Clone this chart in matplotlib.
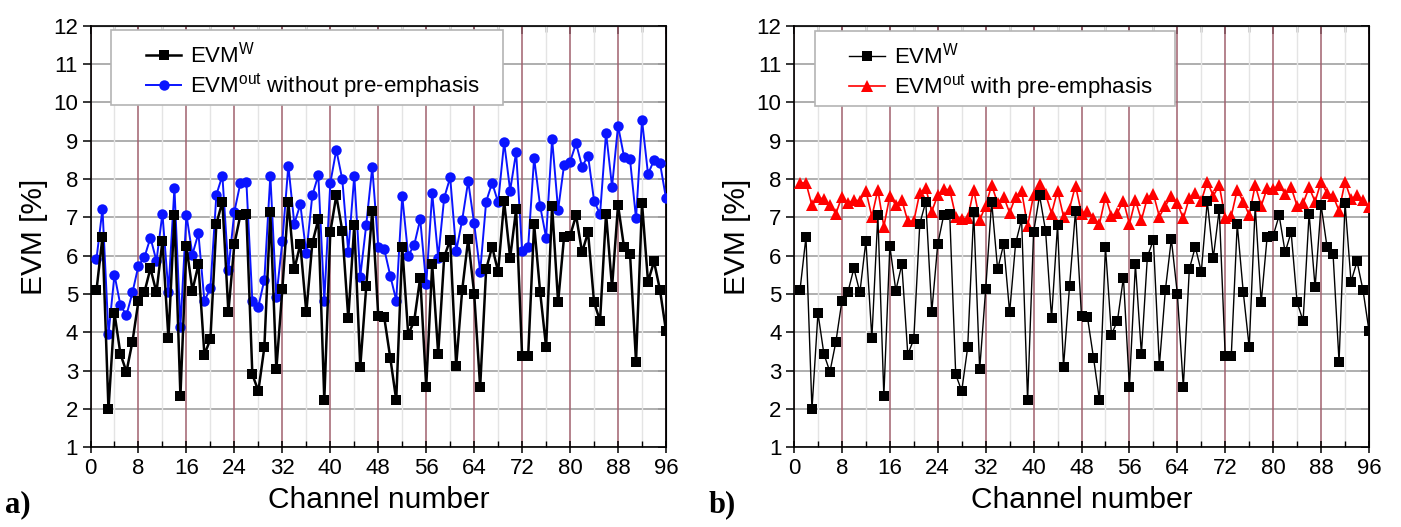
import matplotlib
matplotlib.use("Agg")
import matplotlib.pyplot as plt
from matplotlib.patches import Rectangle
from matplotlib.ticker import MultipleLocator

plt.rcParams['font.family'] = ['Liberation Sans', 'DejaVu Sans']
plt.rcParams['mathtext.fontset'] = 'custom'
plt.rcParams['mathtext.rm'] = 'Liberation Sans'
plt.rcParams['mathtext.it'] = 'Liberation Sans:italic'
plt.rcParams['mathtext.bf'] = 'Liberation Sans:bold'

channels = list(range(1, 97))

evm_w = [5.10, 6.49, 1.99, 4.50, 3.43, 2.97, 3.76, 4.82, 5.05, 5.67, 5.04, 6.38,
         3.85, 7.06, 2.34, 6.25, 5.09, 5.77, 3.42, 3.82, 6.83, 7.41, 4.53, 6.30,
         7.06, 7.08, 2.90, 2.47, 3.61, 7.13, 3.03, 5.12, 7.41, 5.64, 6.30, 4.52,
         6.32, 6.95, 2.23, 6.61, 7.57, 6.65, 4.37, 6.79, 3.10, 5.20, 7.17, 4.43,
         4.39, 3.34, 2.23, 6.23, 3.94, 4.30, 5.43, 2.58, 5.77, 3.44, 5.97, 6.41,
         3.13, 5.10, 6.43, 5.01, 2.57, 5.65, 6.23, 5.58, 7.42, 5.94, 7.21, 3.37,
         3.37, 6.82, 5.06, 3.61, 7.30, 4.78, 6.50, 6.52, 7.05, 6.09, 6.61, 4.78,
         4.30, 7.10, 5.17, 7.32, 6.22, 6.04, 3.23, 7.37, 5.32, 5.85, 5.10, 4.04]

evm_out_no_pe = [5.92, 7.22, 3.95, 5.50, 4.70, 4.45, 5.04, 5.74, 5.96, 6.47, 5.86, 7.10,
                 5.06, 7.77, 4.14, 7.07, 6.03, 6.58, 4.82, 5.15, 7.59, 8.09, 5.63, 7.15,
                 7.89, 7.93, 4.81, 4.67, 5.37, 8.09, 4.91, 6.37, 8.35, 6.83, 7.34, 6.06,
                 7.57, 8.10, 4.82, 7.89, 8.76, 7.99, 6.10, 8.08, 5.45, 6.81, 8.31, 6.23,
                 6.17, 5.48, 4.83, 7.56, 6.00, 6.28, 6.95, 5.25, 7.63, 5.95, 7.51, 8.04,
                 6.12, 6.93, 7.94, 6.84, 5.58, 7.41, 7.90, 7.39, 8.96, 7.70, 8.70, 6.11,
                 6.22, 8.55, 7.30, 6.47, 9.05, 7.19, 8.37, 8.45, 8.93, 8.32, 8.61, 7.43,
                 7.08, 9.21, 7.80, 9.39, 8.58, 8.51, 6.97, 9.54, 8.13, 8.49, 8.41, 7.50]

evm_out_pe = [7.90, 7.90, 7.31, 7.52, 7.47, 7.32, 7.10, 7.54, 7.37, 7.45, 7.43, 7.70,
              7.02, 7.72, 6.76, 7.56, 7.32, 7.45, 6.90, 6.90, 7.64, 7.76, 7.15, 7.58,
              7.73, 7.72, 7.02, 6.95, 6.97, 7.72, 6.93, 7.30, 7.84, 7.37, 7.54, 7.12,
              7.54, 7.69, 6.77, 7.58, 7.86, 7.61, 7.10, 7.70, 7.02, 7.23, 7.83, 7.10,
              7.17, 6.97, 6.83, 7.54, 7.04, 7.12, 7.43, 6.83, 7.45, 6.93, 7.51, 7.61,
              7.02, 7.30, 7.56, 7.37, 6.97, 7.51, 7.64, 7.43, 7.93, 7.56, 7.84, 6.97,
              7.03, 7.72, 7.41, 7.06, 7.84, 7.30, 7.76, 7.73, 7.84, 7.61, 7.78, 7.30,
              7.37, 7.78, 7.41, 7.93, 7.63, 7.56, 7.17, 7.93, 7.47, 7.58, 7.45, 7.26]

x_ticks = [0, 8, 16, 24, 32, 40, 48, 56, 64, 72, 80, 88, 96]
y_ticks = list(range(1, 13))

W, H = 1401, 527
fig = plt.figure(figsize=(W / 100, H / 100), dpi=100)
fig.patch.set_facecolor('white')

ax_a = fig.add_axes([90.5 / W, 1 - 447.3 / H, 575.5 / W, 421.6 / H])
ax_b = fig.add_axes([794 / W, 1 - 447.3 / H, 575 / W, 421.6 / H])


def style_axes(ax):
    ax.set_xlim(0, 96)
    ax.set_ylim(1, 12)
    ax.set_xticks(x_ticks)
    ax.xaxis.set_minor_locator(MultipleLocator(4))
    ax.set_yticks(y_ticks)
    for v in y_ticks:
        ax.axhline(v, color='#a8a8a8', lw=1.3, zorder=0.5)
    ax.grid(True, axis='x', which='major', color='#a0606e', lw=1.1, zorder=0.6)
    ax.grid(True, axis='x', which='minor', color='#e4e4e4', lw=1.0, zorder=0.4)
    ax.set_axisbelow(True)
    for s in ax.spines.values():
        s.set_linewidth(1.2)
        s.set_color('black')
    ax.tick_params(axis='y', which='both', direction='out', length=6, width=1.1,
                   labelsize=16, pad=3)
    ax.tick_params(axis='x', which='major', direction='inout', length=8, width=1.1,
                   labelsize=16, pad=4)
    ax.tick_params(axis='x', which='minor', direction='in', length=4, width=1.0)
    # inward ticks on top and right
    top = ax.secondary_xaxis('top')
    top.set_xticks(x_ticks)
    top.xaxis.set_minor_locator(MultipleLocator(4))
    top.tick_params(which='major', direction='in', length=6, width=1.1, labeltop=False)
    top.tick_params(which='minor', direction='in', length=4, width=1.0)
    right = ax.secondary_yaxis('right')
    right.set_yticks(y_ticks)
    right.tick_params(direction='in', length=6, width=1.1, labelright=False)
    ax.set_xlabel('Channel number', fontsize=21.5, labelpad=5)
    ax.set_ylabel('EVM [%]', fontsize=21.5, labelpad=4)


style_axes(ax_a)
style_axes(ax_b)

# Panel a
l_blue, = ax_a.plot(channels, evm_out_no_pe, color='#0a14ff', lw=1.4, marker='o',
                    markersize=7.5, markeredgewidth=0, zorder=3,
                    label='EVM$^{\\mathrm{out}}$ without pre-emphasis')
l_black_a, = ax_a.plot(channels, evm_w, color='black', lw=1.8, marker='s',
                       markersize=6.5, markeredgewidth=0, zorder=4,
                       label='EVM$^{\\mathrm{W}}$')

# Panel b
l_red, = ax_b.plot(channels, evm_out_pe, color='#ff0000', lw=1.2, marker='^',
                   markersize=8, markeredgewidth=0, zorder=3,
                   label='EVM$^{\\mathrm{out}}$ with pre-emphasis')
l_black_b, = ax_b.plot(channels, evm_w, color='black', lw=1.0, marker='s',
                       markersize=6.5, markeredgewidth=0, zorder=4,
                       label='EVM$^{\\mathrm{W}}$')


def add_legend(ax, handles, box):
    x0, y0, x1, y1 = box
    ax.add_patch(Rectangle((x0, y0), x1 - x0, y1 - y0, transform=ax.transAxes,
                           facecolor='white', edgecolor='#b4b4b4', lw=1.2,
                           zorder=5, clip_on=False))
    leg = ax.legend(handles=handles, loc='center left',
                    bbox_to_anchor=(0.077, (y0 + y1) / 2 - 0.008), frameon=False,
                    fontsize=16, borderpad=0, handlelength=1.6,
                    handletextpad=0.4, labelspacing=0.15, numpoints=1)
    leg.set_zorder(6)


add_legend(ax_a, [l_black_a, l_blue], (0.036, 0.812, 0.717, 0.99))
add_legend(ax_b, [l_black_b, l_red], (0.0365, 0.8095, 0.6626, 0.987))

fig.text(5 / W, 1 - 505 / H, 'a)', fontfamily='Liberation Serif', fontweight='bold',
         fontsize=22, va='center', ha='left')
fig.text(709 / W, 1 - 505 / H, 'b)', fontfamily='Liberation Serif', fontweight='bold',
         fontsize=22, va='center', ha='left')

fig.savefig('out.png', dpi=100)
